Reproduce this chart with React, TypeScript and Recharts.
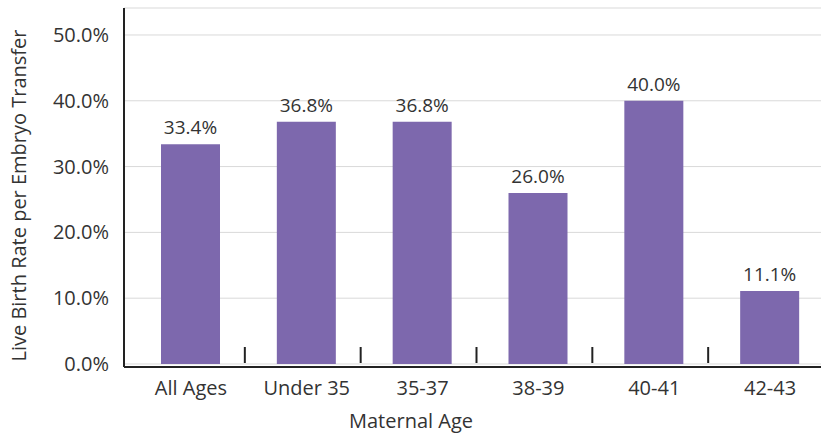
import { BarChart, Bar, XAxis, YAxis, CartesianGrid, LabelList } from "recharts";

const ageGroups = ["All Ages", "Under 35", "35-37", "38-39", "40-41", "42-43"];
const liveBirthRates = [33.4, 36.8, 36.8, 26.0, 40.0, 11.1];
const yTicks = [0, 10, 20, 30, 40, 50];

const data = ageGroups.map((age, i) => ({ age, rate: liveBirthRates[i] }));

const CHART_W = 828;
const CHART_H = 434;
const Y_AXIS_W = 124;
const PAD_LEFT = 9;
const BAND = (CHART_W - Y_AXIS_W - PAD_LEFT) / ageGroups.length;
const FONT = "'Open Sans', sans-serif";
const TEXT = "#333";
const INK = "#222";

function AgeTick(props: any) {
  const { x, y, payload, index } = props;
  return (
    <g>
      <text x={x} y={y} dy={28} textAnchor="middle" fill={TEXT} fontSize={20} fontFamily={FONT}>
        {payload.value}
      </text>
      {index < ageGroups.length - 1 && (
        <line x1={x + BAND / 2 - 4} x2={x + BAND / 2 - 4} y1={y - 20} y2={y - 4} stroke={INK} strokeWidth={2} />
      )}
    </g>
  );
}

export default function App() {
  return (
    <div style={{ position: "absolute", left: 0, top: 0, width: 821, height: 434, overflow: "hidden", background: "#fff" }}>
      <BarChart width={CHART_W} height={CHART_H} data={data} margin={{ top: 8, right: 0, left: 0, bottom: 37 }}>
        <CartesianGrid vertical={false} stroke="#d9d9d9" />
        <XAxis
          dataKey="age"
          tick={<AgeTick />}
          tickLine={false}
          tickSize={0}
          tickMargin={0}
          axisLine={{ stroke: INK, strokeWidth: 2 }}
          padding={{ left: PAD_LEFT, right: 0 }}
          interval={0}
          label={{
            content: () => (
              <text x={411} y={428} textAnchor="middle" fill={TEXT} fontSize={20} fontFamily={FONT}>
                Maternal Age
              </text>
            ),
          }}
        />
        <YAxis
          width={Y_AXIS_W}
          domain={[-0.46, 54.1]}
          ticks={yTicks}
          tickFormatter={(v: number) => `${v.toFixed(1)}%`}
          tick={{ fill: TEXT, fontSize: 20, fontFamily: FONT }}
          tickLine={false}
          tickSize={0}
          tickMargin={15}
          axisLine={{ stroke: INK, strokeWidth: 2 }}
          label={{
            content: (p: any) => {
              const vb = p.viewBox;
              const cy = vb.y + vb.height / 2 + 8;
              return (
                <text
                  x={0}
                  y={0}
                  transform={`translate(18, ${cy}) rotate(-90)`}
                  textAnchor="middle"
                  dominantBaseline="central"
                  fill={TEXT}
                  fontSize={20}
                  fontFamily={FONT}
                >
                  Live Birth Rate per Embryo Transfer
                </text>
              );
            },
          }}
        />
        <Bar dataKey="rate" fill="#7d68ad" barSize={59} isAnimationActive={false}>
          <LabelList
            dataKey="rate"
            position="top"
            offset={10}
            formatter={(v: any) => `${Number(v).toFixed(1)}%`}
            fill={TEXT}
            fontSize={19}
            fontFamily={FONT}
          />
        </Bar>
      </BarChart>
    </div>
  );
}
